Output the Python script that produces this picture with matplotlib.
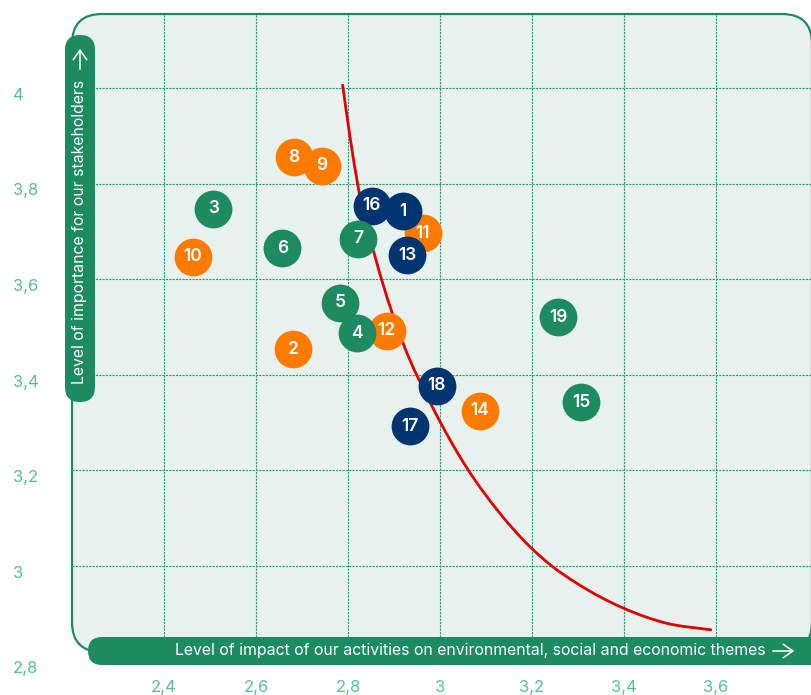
import matplotlib
matplotlib.use("Agg")
import matplotlib.pyplot as plt
from matplotlib.patches import FancyBboxPatch, FancyArrowPatch, PathPatch
from matplotlib.path import Path as MplPath
from matplotlib.transforms import IdentityTransform

plt.rcParams["font.family"] = ["Inter", "DejaVu Sans"]

# ---- data ----
ids = [1, 2, 3, 4, 5, 6, 7, 8, 9, 10, 11, 12, 13, 14, 15, 16, 17, 18, 19]
impact = [2.919, 2.681, 2.507, 2.819, 2.783, 2.657, 2.822, 2.683, 2.743, 2.462,
          2.962, 2.884, 2.928, 3.087, 3.307, 2.852, 2.935, 2.993, 3.257]
importance = [3.742, 3.453, 3.747, 3.486, 3.550, 3.664, 3.684, 3.855, 3.837, 3.647,
              3.696, 3.492, 3.650, 3.324, 3.342, 3.753, 3.292, 3.376, 3.520]
group = ["navy", "orange", "green", "green", "green", "green", "green", "orange", "orange", "orange",
         "orange", "orange", "navy", "orange", "green", "navy", "navy", "navy", "green"]

curve_x = [2.788, 2.804, 2.822, 2.862, 2.920, 2.982, 3.058, 3.128, 3.198, 3.243,
           3.297, 3.398, 3.493, 3.591]
curve_y = [4.008, 3.900, 3.793, 3.636, 3.465, 3.335, 3.205, 3.112, 3.037, 2.999,
           2.963, 2.911, 2.879, 2.865]

xticks = [2.4, 2.6, 2.8, 3.0, 3.2, 3.4, 3.6]
xtick_labels = ["2,4", "2,6", "2,8", "3", "3,2", "3,4", "3,6"]
yticks = [2.8, 3.0, 3.2, 3.4, 3.6, 3.8, 4.0]
ytick_labels = ["2,8", "3", "3,2", "3,4", "3,6", "3,8", "4"]

COLORS = {"green": "#1E8A5F", "orange": "#FF7B00", "navy": "#00356F"}
BAND = "#1E8A5F"
BG = "#E7F1EE"
TICK_INK = "#5BBF94"
GRID = "#2F9770"

W, H = 812, 695
fig = plt.figure(figsize=(W / 100, H / 100), dpi=100)
fig.patch.set_facecolor("white")

# axes covers the framed area: px x 72..812, px y 14..672 (from top)
ax = fig.add_axes([72 / W, (H - 672) / H, 740 / W, (672 - 14) / H])
ax.set_xlim(2.2, 2.2 + 740 / 460)
ax.set_ylim(4 - (672 - 88) / 477.5, 4 + (88 - 14) / 477.5)
ax.set_facecolor("none")
for s in ax.spines.values():
    s.set_visible(False)


def py(y):
    # pixel from top -> display pixel from bottom
    return H - y


ident = IdentityTransform()

# framed background
ax.add_patch(FancyBboxPatch((72, py(652)), 740, 638,
                            boxstyle="round,pad=0,rounding_size=30",
                            facecolor=BG, edgecolor=BAND, linewidth=1.6,
                            transform=ident, clip_on=False, zorder=0))

# grid
ax.vlines(xticks, 4 - (637 - 88) / 477.5, 4 + (88 - 14) / 477.5,
          colors=GRID, linewidth=0.8, linestyles=(0, (2, 1)), zorder=1)
ax.hlines(yticks[1:], 2.2, 2.2 + 740 / 460,
          colors=GRID, linewidth=0.8, linestyles=(0, (2, 1)), zorder=1)

# threshold curve: cubic Hermite segments (as Bezier) through the read points
n = len(curve_x)
h = [curve_x[i + 1] - curve_x[i] for i in range(n - 1)]
d = [(curve_y[i + 1] - curve_y[i]) / h[i] for i in range(n - 1)]
m = [d[0]] + [(d[i - 1] * h[i] + d[i] * h[i - 1]) / (h[i - 1] + h[i])
              for i in range(1, n - 1)] + [d[-1]]
verts = [(curve_x[0], curve_y[0])]
codes = [MplPath.MOVETO]
for i in range(n - 1):
    verts += [(curve_x[i] + h[i] / 3, curve_y[i] + m[i] * h[i] / 3),
              (curve_x[i + 1] - h[i] / 3, curve_y[i + 1] - m[i + 1] * h[i] / 3),
              (curve_x[i + 1], curve_y[i + 1])]
    codes += [MplPath.CURVE4] * 3
ax.add_patch(PathPatch(MplPath(verts, codes), facecolor="none",
                       edgecolor="#E00000", linewidth=2.0, zorder=2,
                       capstyle="butt"))

# bubbles: orange below navy below green, left to right within a group
order = []
for g in ["orange", "navy", "green"]:
    idx = [i for i in range(len(ids)) if group[i] == g]
    order += sorted(idx, key=lambda i: impact[i])
for k, i in enumerate(order):
    z = 3 + k * 0.02
    ax.scatter([impact[i]], [importance[i]], s=740, color=COLORS[group[i]],
               linewidths=0, zorder=z)
    ax.text(impact[i], importance[i], str(ids[i]), ha="center", va="center",
            color="white", fontsize=12.5, fontweight="semibold", zorder=z + 0.01)

# ticks
ax.set_xticks(xticks)
ax.set_xticklabels(xtick_labels)
ax.set_yticks(yticks)
ax.set_yticklabels(ytick_labels)
ax.tick_params(axis="both", length=0, labelsize=12, labelcolor=TICK_INK)
ax.tick_params(axis="x", pad=6)
ax.tick_params(axis="y", pad=42.5)
for t in ax.get_yticklabels():
    t.set_horizontalalignment("left")
    t.set_verticalalignment("top")

# y-axis band
ax.add_patch(FancyBboxPatch((65, py(402)), 30, 367,
                            boxstyle="round,pad=0,rounding_size=15",
                            facecolor=BAND, edgecolor="none",
                            transform=ident, clip_on=False, zorder=5))
ax.text(80, py(232), "Level of importance for our stakeholders", transform=ident,
        rotation=90, ha="center", va="center", color="white", fontsize=11.4,
        zorder=6)
ax.add_patch(FancyArrowPatch((80, py(72)), (80, py(46)), transform=ident,
                             arrowstyle="->,head_length=0.5,head_width=0.35",
                             mutation_scale=14, color="white", linewidth=1.1,
                             clip_on=False, zorder=6))

# x-axis band
ax.add_patch(FancyBboxPatch((88, py(665)), 760, 28,
                            boxstyle="round,pad=0,rounding_size=14",
                            facecolor=BAND, edgecolor="none",
                            transform=ident, clip_on=False, zorder=5))
ax.text(175, py(651), "Level of impact of our activities on environmental, social and economic themes",
        transform=ident, ha="left", va="center", color="white", fontsize=11.4,
        zorder=6)
ax.add_patch(FancyArrowPatch((770, py(651)), (797, py(651)), transform=ident,
                             arrowstyle="->,head_length=0.5,head_width=0.35",
                             mutation_scale=14, color="white", linewidth=1.1,
                             clip_on=False, zorder=6))

fig.savefig("out.png", dpi=100)
